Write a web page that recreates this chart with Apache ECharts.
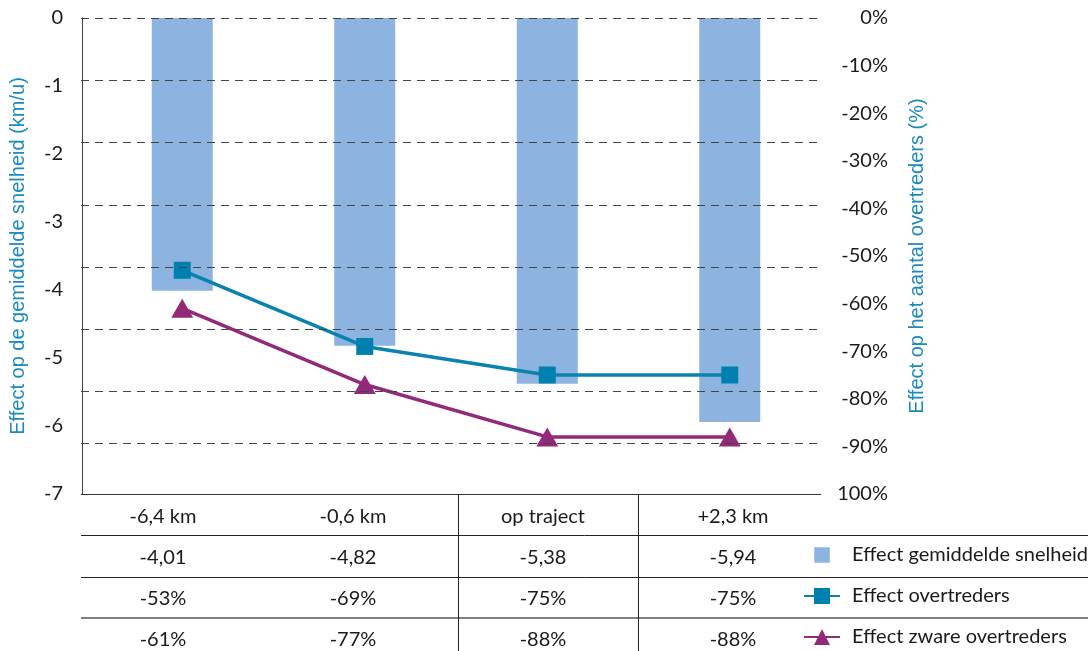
<!DOCTYPE html>
<html>
<head>
<meta charset="utf-8">
<script src="https://cdn.jsdelivr.net/npm/echarts@6/dist/echarts.min.js"></script>
<style>
  html, body { margin: 0; padding: 0; background: #ffffff; }
  #chart { width: 1091px; height: 651px; }
</style>
</head>
<body>
<div id="chart"></div>
<script>
// Meetlocaties (kolommen van de tabel en categorieën van de grafiek)
const categories = ['-6,4 km', '-0,6 km', 'op traject', '+2,3 km'];

// Effect op de gemiddelde snelheid (km/u)
const snelheid = [-4.01, -4.82, -5.38, -5.94];
// Effect op het aantal overtreders (%)
const overtreders = [-53, -69, -75, -75];
// Effect op het aantal zware overtreders (%)
const zwareOvertreders = [-61, -77, -88, -88];

const seriesNames = ['Effect gemiddelde snelheid', 'Effect overtreders', 'Effect zware overtreders'];

// Aslabels
const leftTicks = ['0', '-1', '-2', '-3', '-4', '-5', '-6', '-7'];
const rightTicks = ['0%', '-10%', '-20%', '-30%', '-40%', '-50%', '-60%', '-70%', '-80%', '-90%', '100%'];

// Gestippelde hulplijnen (in km/u)
const gridLevels = [0, -0.91, -1.82, -2.75, -3.66, -4.57, -5.49, -6.26];

// Tekst voor de tabelrijen, afgeleid uit dezelfde reeksen als de grafiek
const fmtKm = v => v.toFixed(2).replace('.', ',');
const fmtPct = v => v + '%';
const tableRows = [
  categories,
  snelheid.map(fmtKm),
  overtreders.map(fmtPct),
  zwareOvertreders.map(fmtPct)
];

const FONT = 'Lato';
const FS = 20;
const TXT = '#1a1a1a';
const BLUE_TITLE = '#1b8bbf';
const BAR = '#8db4e0';
const TEAL = '#0a82b0';
const PURPLE = '#922a79';

const chart = echarts.init(document.getElementById('chart'), null, { renderer: 'canvas' });

// Tabelrijen als categorie-assen onder de grafiek
const rowCenters = [22, 63, 104, 145];
const tableAxes = tableRows.map((row, i) => ({
  type: 'category',
  gridIndex: 1,
  data: row,
  position: 'bottom',
  offset: rowCenters[i],
  axisLine: { show: false },
  axisTick: { show: false },
  axisLabel: {
    margin: 0,
    verticalAlign: 'middle',
    fontFamily: FONT,
    fontSize: FS,
    color: TXT,
    interval: 0
  }
}));

const H = 651;
const tableLines = [
  { x1: 81, y1: 494.5, x2: 821, y2: 494.5, c: '#333', w: 1 },
  { x1: 81, y1: 535.5, x2: 1088, y2: 535.5, c: '#222', w: 1 },
  { x1: 81, y1: 577.5, x2: 1088, y2: 577.5, c: '#222', w: 1 },
  { x1: 81, y1: 618, x2: 1088, y2: 618, c: '#808080', w: 2 },
  { x1: 458.5, y1: 494, x2: 458.5, y2: H, c: '#222', w: 1 },
  { x1: 638.5, y1: 494, x2: 638.5, y2: H, c: '#222', w: 1 }
];

const option = {
  animation: false,
  backgroundColor: '#ffffff',
  grid: [
    { left: 90, right: 270, top: 18, bottom: 157 },
    { left: 68, right: 263, top: 494, bottom: 156 },
    { left: 81, right: 270, top: 18, bottom: 157 }
  ],
  legend: {
    orient: 'vertical',
    left: 803,
    top: 545,
    padding: 0,
    itemWidth: 36,
    itemHeight: 20,
    itemGap: 21,
    textStyle: { fontFamily: FONT, fontSize: FS, color: TXT, padding: [0, 0, 0, 7] },
    data: [
      { name: seriesNames[0], icon: 'path://M0,0L0.01,0M4,4H32V32H4ZM36,36L35.99,36' },
      { name: seriesNames[1] },
      { name: seriesNames[2] }
    ]
  },
  xAxis: [
    {
      type: 'category', gridIndex: 0, data: categories,
      axisLine: { show: false }, axisTick: { show: false }, axisLabel: { show: false }
    },
    ...tableAxes,
    {
      type: 'category', gridIndex: 2, data: categories, show: false
    }
  ],
  yAxis: [
    {
      type: 'value', gridIndex: 0, position: 'left', offset: 9,
      min: -7, max: 0, interval: 1,
      axisLine: { show: true, lineStyle: { color: '#444', width: 1 } },
      axisTick: { show: false },
      splitLine: { show: false },
      axisLabel: {
        margin: 19, fontFamily: FONT, fontSize: FS, color: TXT,
        formatter: v => leftTicks[Math.round(-v)]
      },
      name: 'Effect op de gemiddelde snelheid (km/u)',
      nameLocation: 'middle',
      nameRotate: 90,
      nameGap: 54,
      nameTextStyle: { fontFamily: 'Liberation Sans', fontSize: 20, color: BLUE_TITLE }
    },
    {
      type: 'value', gridIndex: 0, position: 'right',
      min: -100, max: 0, interval: 10,
      axisLine: { show: false },
      axisTick: { show: false },
      splitLine: { show: false },
      axisLabel: {
        margin: 67, align: 'right', fontFamily: FONT, fontSize: FS, color: TXT,
        formatter: v => rightTicks[Math.round(-v / 10)]
      },
      name: 'Effect op het aantal overtreders (%)',
      nameLocation: 'middle',
      nameRotate: 90,
      nameGap: 86,
      nameTextStyle: { fontFamily: 'Liberation Sans', fontSize: 20, color: BLUE_TITLE }
    },
    { type: 'value', gridIndex: 1, show: false },
    { type: 'value', gridIndex: 2, show: false, min: -7, max: 0 }
  ],
  series: [
    {
      // gestippelde hulplijnen achter de staven
      type: 'line',
      xAxisIndex: 1 + tableAxes.length,
      yAxisIndex: 3,
      data: [],
      z: 1,
      silent: true,
      markLine: {
        silent: true,
        symbol: 'none',
        label: { show: false },
        lineStyle: { type: [8, 6], color: '#444', width: 1 },
        data: gridLevels.map(v => ({ yAxis: v }))
      }
    },
    {
      name: seriesNames[0],
      type: 'bar',
      xAxisIndex: 0,
      yAxisIndex: 0,
      data: snelheid,
      barWidth: 61,
      itemStyle: { color: BAR },
      z: 2
    },
    {
      name: seriesNames[1],
      type: 'line',
      xAxisIndex: 0,
      yAxisIndex: 1,
      data: overtreders,
      symbol: 'rect',
      symbolSize: 17,
      lineStyle: { color: TEAL, width: 3.5 },
      itemStyle: { color: '#0080ae' },
      z: 3
    },
    {
      name: seriesNames[2],
      type: 'line',
      xAxisIndex: 0,
      yAxisIndex: 1,
      data: zwareOvertreders,
      symbol: 'triangle',
      symbolSize: [22, 19],
      lineStyle: { color: PURPLE, width: 3.5 },
      itemStyle: { color: PURPLE },
      z: 4
    }
  ],
  graphic: tableLines.map(l => ({
    type: 'line',
    silent: true,
    shape: { x1: l.x1, y1: l.y1, x2: l.x2, y2: l.y2 },
    style: { stroke: l.c, lineWidth: l.w }
  }))
};

chart.setOption(option);
</script>
</body>
</html>
